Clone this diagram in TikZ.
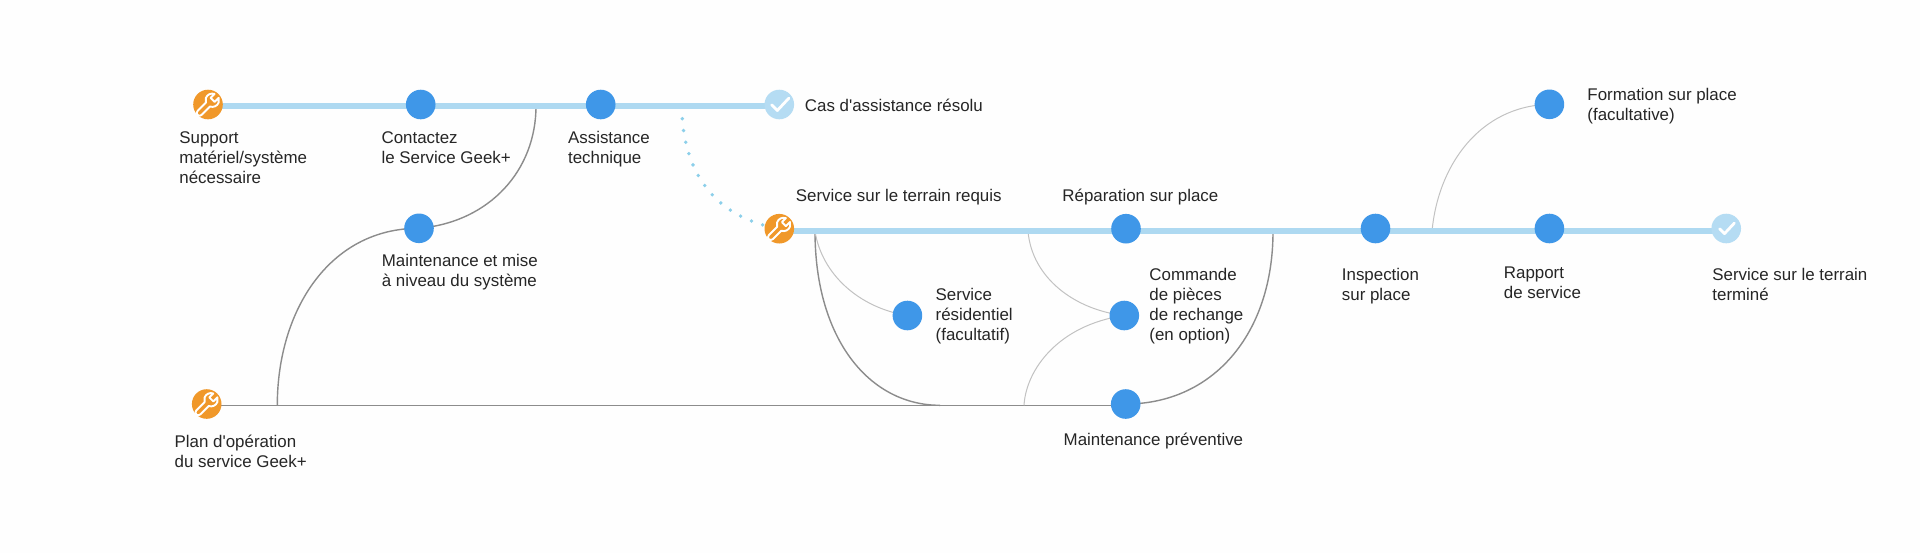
\documentclass[tikz,border=0pt]{standalone}
\usepackage{fontspec}
\newfontfamily\lblfont{Liberation Sans}
\usetikzlibrary{backgrounds}
\definecolor{bluedot}{HTML}{3F97E8}
\definecolor{orangedot}{HTML}{F0982A}
\definecolor{paledot}{HTML}{B5DCF3}
\definecolor{mainblue}{HTML}{AED9F1}
\definecolor{dotblue}{HTML}{8CCFEA}
\definecolor{txt}{HTML}{262626}
\definecolor{pagebg}{HTML}{FEFEFE}
\tikzset{
  dotnode/.style={circle,inner sep=0pt,minimum size=14.8pt,fill=bluedot},
  toolnode/.style={dotnode,fill=orangedot},
  donenode/.style={dotnode,fill=paledot},
  lbl/.style={anchor=north west,inner sep=0pt,align=left,text=txt,
    font=\lblfont\fontsize{8.45}{10}\selectfont,execute at begin node={\rule{0pt}{7pt}}},
  mainline/.style={line width=2.9pt,mainblue},
  greyline/.style={line width=0.7pt,black!45},
  lightline/.style={line width=0.5pt,black!24},
  dotline/.style={line width=1.9pt,dotblue,line cap=round,dash pattern=on 0pt off 5.95pt},
  glyph/.style={white,line width=0.95pt,line join=round},
  tick/.style={white,line width=1.4pt,line cap=round,line join=round}
}
\newcommand{\wrenchat}[1]{%
  \begin{scope}[shift={(#1)},x=0.5pt,y=0.5pt,rotate=45]
    \draw[glyph] (-12,-2.8) -- (0,-2.8) arc[start angle=205,end angle=335,radius=6.8]
      -- (6.5,-2.8) -- (6.5,2.8) -- (12.1,2.8) arc[start angle=25,end angle=155,radius=6.8]
      -- (-12,2.8) arc[start angle=90,end angle=270,radius=2.8];
  \end{scope}}
\newcommand{\tickat}[2]{%
  \begin{scope}[shift={(#1)},x=#2*0.5pt,y=-#2*0.5pt]
    \draw[tick] (-7.7,0.3) -- (-2,6) -- (9.5,-6.3);
  \end{scope}}
\begin{document}
\begin{tikzpicture}[x=0.5pt,y=-0.5pt]
\begin{scope}[on background layer]
\path[use as bounding box,fill=pagebg] (0,0) rectangle (1920,553);
\end{scope}
% nodes
\node[toolnode] (support) at (208,104.5) {};
\node[dotnode] (contact) at (420.7,104.5) {};
\node[dotnode] (assist) at (600.7,104.5) {};
\node[donenode] (resolved) at (779.3,104.5) {};
\node[dotnode] (upgrade) at (419,228.3) {};
\node[toolnode] (field) at (779.3,228.7) {};
\node[dotnode] (repair) at (1126,228.7) {};
\node[dotnode] (inspect) at (1375.5,228.5) {};
\node[dotnode] (report) at (1549.4,228.5) {};
\node[donenode] (finished) at (1726.2,228.5) {};
\node[dotnode] (training) at (1549.4,104.3) {};
\node[dotnode] (resid) at (907.4,315.5) {};
\node[dotnode] (parts) at (1124.3,315.5) {};
\node[dotnode] (prevent) at (1125.7,404) {};
\node[toolnode] (plan) at (206.7,404) {};
% icons
\wrenchat{support}
\wrenchat{field}
\wrenchat{plan}
\tickat{resolved}{1}
\tickat{finished}{0.85}
% free ends of the branches
\coordinate (b1) at (536,106);
\coordinate (b2) at (277.3,405.3);
\coordinate (b3) at (815,231.3);
\coordinate (b4) at (940,405.3);
\coordinate (b5) at (1273,231.3);
\coordinate (b6) at (1028,231.3);
\coordinate (b7) at (1024,405.3);
\coordinate (b8) at (1432,231.3);
\coordinate (d1) at (682.3,118.7);
% connectors
\begin{scope}[on background layer]
  \draw[greyline] ([yshift=-0.65pt]plan.center) -- ([yshift=-0.65pt]prevent.center);
  \draw[greyline] (b1) .. controls (536,170) and (490,222) .. (upgrade.center);
  \draw[greyline] (upgrade.center) .. controls (330,228) and (277.3,310) .. (b2);
  \draw[greyline] (b3) .. controls (815,340) and (870,405.3) .. (b4);
  \draw[greyline] (b5) .. controls (1273,335) and (1212,404) .. (prevent.center);
  \draw[lightline] (b3) .. controls (822,275) and (860,308) .. (resid.center);
  \draw[lightline] (b6) .. controls (1032,278) and (1075,310) .. (parts.center);
  \draw[lightline] (b7) .. controls (1026,370) and (1058,325) .. (parts.center);
  \draw[lightline] (b8) .. controls (1438,165) and (1480,106) .. (training.center);
  \draw[dotline] (d1) .. controls (686,170) and (712,217) .. (field.center);
  \draw[mainline] ([yshift=-0.9pt]support.center) -- ([yshift=-0.9pt]contact.center);
  \draw[mainline] ([yshift=-0.9pt]contact.center) -- ([yshift=-0.9pt]assist.center);
  \draw[mainline] ([yshift=-0.9pt]assist.center) -- ([yshift=-0.9pt]resolved.center);
  \draw[mainline] ([yshift=-1.3pt]field.center) -- ([yshift=-1.3pt]repair.center);
  \draw[mainline] ([yshift=-1.3pt]repair.center) -- ([yshift=-1.4pt]inspect.center);
  \draw[mainline] ([yshift=-1.4pt]inspect.center) -- ([yshift=-1.4pt]report.center);
  \draw[mainline] ([yshift=-1.4pt]report.center) -- ([yshift=-1.4pt]finished.center);
\end{scope}
% labels
\node[lbl] (t1) at (179,131) {Support\\matériel/système\\nécessaire};
\node[lbl] (t2) at (381.2,131) {Contactez\\le Service Geek+};
\node[lbl] (t3) at (567.7,131) {Assistance\\technique};
\node[lbl] (t4) at (804.5,97.3) {Cas d'assistance résolu};
\node[lbl] (t5) at (381.5,254.3) {Maintenance et mise\\à niveau du système};
\node[lbl] (t6) at (795.5,186.7) {Service sur le terrain requis};
\node[lbl] (t7) at (1062,186.7) {Réparation sur place};
\node[lbl] (t8) at (935.3,288) {Service\\résidentiel\\(facultatif)};
\node[lbl] (t9) at (1149,268) {Commande\\de pièces\\de rechange\\(en option)};
\node[lbl] (t10) at (1063.3,431) {Maintenance préventive};
\node[lbl] (t11) at (174.3,435) {Plan d'opération\\du service Geek+};
\node[lbl] (t12) at (1587,88) {Formation sur place\\(facultative)};
\node[lbl] (t13) at (1341.5,268) {Inspection\\sur place};
\node[lbl] (t14) at (1503.5,266.7) {Rapport\\de service};
\node[lbl] (t15) at (1712,268) {Service sur le terrain\\terminé};
\end{tikzpicture}
\end{document}
